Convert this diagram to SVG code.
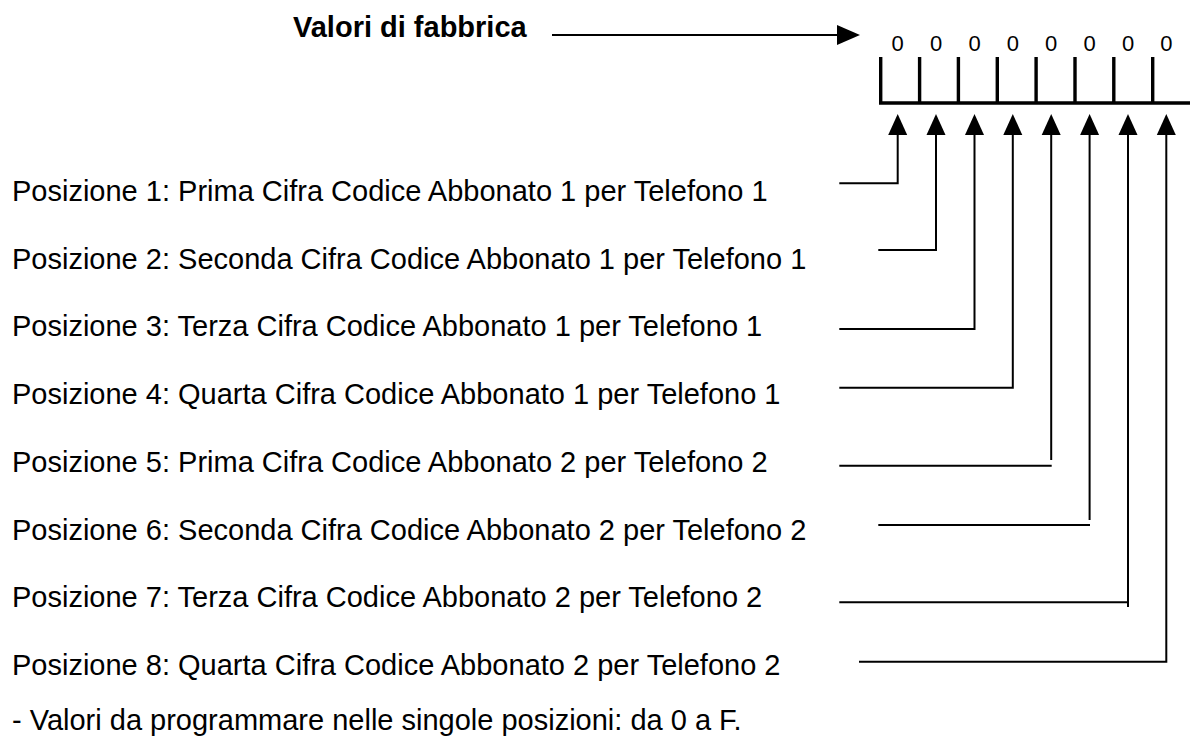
<svg xmlns="http://www.w3.org/2000/svg" width="1190" height="738" viewBox="0 0 1190 738">
<style>
text{font-family:"Liberation Sans",Arial,sans-serif;fill:#000}
.lbl{font-size:29px}
.ttl{font-size:29px;font-weight:bold}
.dig{font-size:22px;text-anchor:middle}
.c{fill:none;stroke:#000;stroke-width:2}
.b{fill:none;stroke:#000;stroke-width:3.4}
.h{fill:#000;stroke:none}
</style>
<defs>
<polygon id="ah" points="0,0 9.5,21 -9.5,21"/>
</defs>
<rect width="1190" height="738" fill="#fff"/>
<g id="title">
<text class="ttl" x="293" y="37">Valori di fabbrica</text>
</g>
<g id="register">
<text class="dig" x="897.7" y="50.5">0</text>
<text class="dig" x="936" y="50.5">0</text>
<text class="dig" x="974.5" y="50.5">0</text>
<text class="dig" x="1012.8" y="50.5">0</text>
<text class="dig" x="1051.2" y="50.5">0</text>
<text class="dig" x="1089.6" y="50.5">0</text>
<text class="dig" x="1128" y="50.5">0</text>
<text class="dig" x="1166.3" y="50.5">0</text>
<path class="b" d="M880.7,57V103M919.6,57V103M958.4,57V103M997.3,57V103M1036.1,57V103M1075,57V103M1113.8,57V103M1152.7,57V103M879,103H1190"/>
</g>
<g id="labels">
<text class="lbl" x="12" y="200.7">Posizione 1: Prima Cifra Codice Abbonato 1 per Telefono 1</text>
<text class="lbl" x="12" y="268.5">Posizione 2: Seconda Cifra Codice Abbonato 1 per Telefono 1</text>
<text class="lbl" x="12" y="336.2">Posizione 3: Terza Cifra Codice Abbonato 1 per Telefono 1</text>
<text class="lbl" x="12" y="404">Posizione 4: Quarta Cifra Codice Abbonato 1 per Telefono 1</text>
<text class="lbl" x="12" y="471.7">Posizione 5: Prima Cifra Codice Abbonato 2 per Telefono 2</text>
<text class="lbl" x="12" y="539.5">Posizione 6: Seconda Cifra Codice Abbonato 2 per Telefono 2</text>
<text class="lbl" x="12" y="607.3">Posizione 7: Terza Cifra Codice Abbonato 2 per Telefono 2</text>
<text class="lbl" x="12" y="675">Posizione 8: Quarta Cifra Codice Abbonato 2 per Telefono 2</text>
<text class="lbl" x="12" y="730">- Valori da programmare nelle singole posizioni: da 0 a F.</text>
</g>
<g id="connectors">
<path class="c" d="M552,35H840"/>
<polygon class="h" points="837,25 860,35 837,45"/>
<path class="c" d="M839.3,183.3H897.7V130"/>
<path class="c" d="M878.3,250H936V130"/>
<path class="c" d="M839.3,329H974.5V130"/>
<path class="c" d="M839.3,387.7H1012.8V130"/>
<path class="c" d="M839.3,465.7H1051.7M1051.2,460V130"/>
<path class="c" d="M878.3,525H1090M1089.6,520V130"/>
<path class="c" d="M839.3,602.3H1128M1128,607V130"/>
<path class="c" d="M859,661.7H1166.3V130"/>
<use href="#ah" class="h" x="897.7" y="114"/>
<use href="#ah" class="h" x="936" y="114"/>
<use href="#ah" class="h" x="974.5" y="114"/>
<use href="#ah" class="h" x="1012.8" y="114"/>
<use href="#ah" class="h" x="1051.2" y="114"/>
<use href="#ah" class="h" x="1089.6" y="114"/>
<use href="#ah" class="h" x="1128" y="114"/>
<use href="#ah" class="h" x="1166.3" y="114"/>
</g>
</svg>
